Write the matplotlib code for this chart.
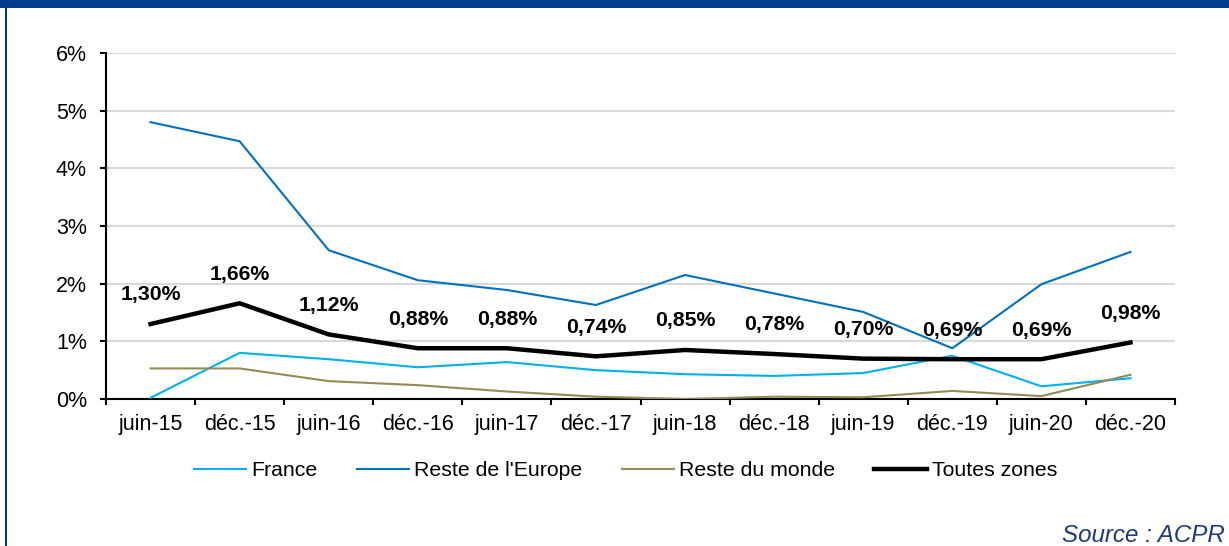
import matplotlib
matplotlib.use("Agg")
import matplotlib.pyplot as plt
from matplotlib.patches import Rectangle
from matplotlib.lines import Line2D

plt.rcParams['font.family'] = ['Liberation Sans', 'DejaVu Sans']

periods = ["juin-15", "déc.-15", "juin-16", "déc.-16", "juin-17", "déc.-17",
           "juin-18", "déc.-18", "juin-19", "déc.-19", "juin-20", "déc.-20"]
france = [0.02, 0.80, 0.69, 0.55, 0.64, 0.50, 0.43, 0.40, 0.45, 0.75, 0.22, 0.36]
reste_europe = [4.80, 4.47, 2.58, 2.06, 1.89, 1.63, 2.15, 1.83, 1.51, 0.88, 1.99, 2.55]
reste_monde = [0.53, 0.53, 0.31, 0.24, 0.13, 0.04, 0.00, 0.04, 0.03, 0.14, 0.05, 0.42]
toutes_zones = [1.30, 1.66, 1.12, 0.88, 0.88, 0.74, 0.85, 0.78, 0.70, 0.69, 0.69, 0.98]
yticks = [0, 1, 2, 3, 4, 5, 6]

W, H = 1229, 546
fig = plt.figure(figsize=(W / 100, H / 100), dpi=100)
fig.patch.set_facecolor("white")

# frame: blue band on top, blue rule on the left
fig.patches.append(Rectangle((0, 1 - 8 / H), 1, 8 / H, transform=fig.transFigure,
                             facecolor="#003D8F", edgecolor="none", zorder=0))
fig.patches.append(Rectangle((5 / W, 0), 2 / W, 1, transform=fig.transFigure,
                             facecolor="#003D8F", edgecolor="none", zorder=0))

ax = fig.add_axes([106 / W, 1 - 399 / H, (1175 - 106) / W, (399 - 53) / H])
x = [i + 0.5 for i in range(len(periods))]

ax.plot(x, france, color="#00B0F0", lw=1.5, zorder=3)
ax.plot(x, reste_europe, color="#0070C0", lw=1.5, zorder=3)
ax.plot(x, reste_monde, color="#948A54", lw=1.5, zorder=3)
ax.plot(x, toutes_zones, color="black", lw=3.2, zorder=4)

for xi, v in zip(x, toutes_zones):
    ax.annotate(f"{v:.2f}%".replace(".", ","), (xi, v), xytext=(0, 21),
                textcoords="offset points", ha="center", va="center",
                fontsize=15.3, fontweight="bold", color="black", zorder=5)

ax.set_xlim(0, len(periods))
ax.set_ylim(0, 6)
ax.set_yticks(yticks)
ax.set_yticklabels([f"{t}%" for t in yticks], fontsize=15.5)
ax.set_xticks(range(len(periods) + 1))
ax.set_xticklabels([])
ax.set_xticks(x, minor=True)
ax.set_xticklabels(periods, minor=True, fontsize=15.5)
ax.tick_params(axis="x", which="minor", length=0, pad=10.5)
ax.tick_params(axis="x", which="major", length=4.3, width=1.5, direction="out")
ax.tick_params(axis="y", length=4.3, width=1.5, direction="out", pad=9.5)

ax.grid(axis="y", color="#D9D9D9", lw=1.5, zorder=0)
ax.set_axisbelow(True)
for s in ("top", "right"):
    ax.spines[s].set_visible(False)
for s in ("left", "bottom"):
    ax.spines[s].set_linewidth(1.5)
    ax.spines[s].set_color("black")

handles = [Line2D([], [], color="#00B0F0", lw=1.5),
           Line2D([], [], color="#0070C0", lw=1.5),
           Line2D([], [], color="#948A54", lw=1.5),
           Line2D([], [], color="black", lw=3.2)]
labels = ["France", "Reste de l'Europe", "Reste du monde", "Toutes zones"]
fig.legend(handles, labels, loc="center",
           bbox_to_anchor=(0.5 + 11 / W, 1 - 471 / H),
           ncol=4, frameon=False, fontsize=15.3, handlelength=2.45,
           handletextpad=0.25, columnspacing=1.85)

fig.text(1225 / W, 1 - 535 / H, "Source : ACPR", ha="right", va="center",
         fontsize=17.4, style="italic", color="#1F3A7A")

fig.savefig("out.png", dpi=100)
